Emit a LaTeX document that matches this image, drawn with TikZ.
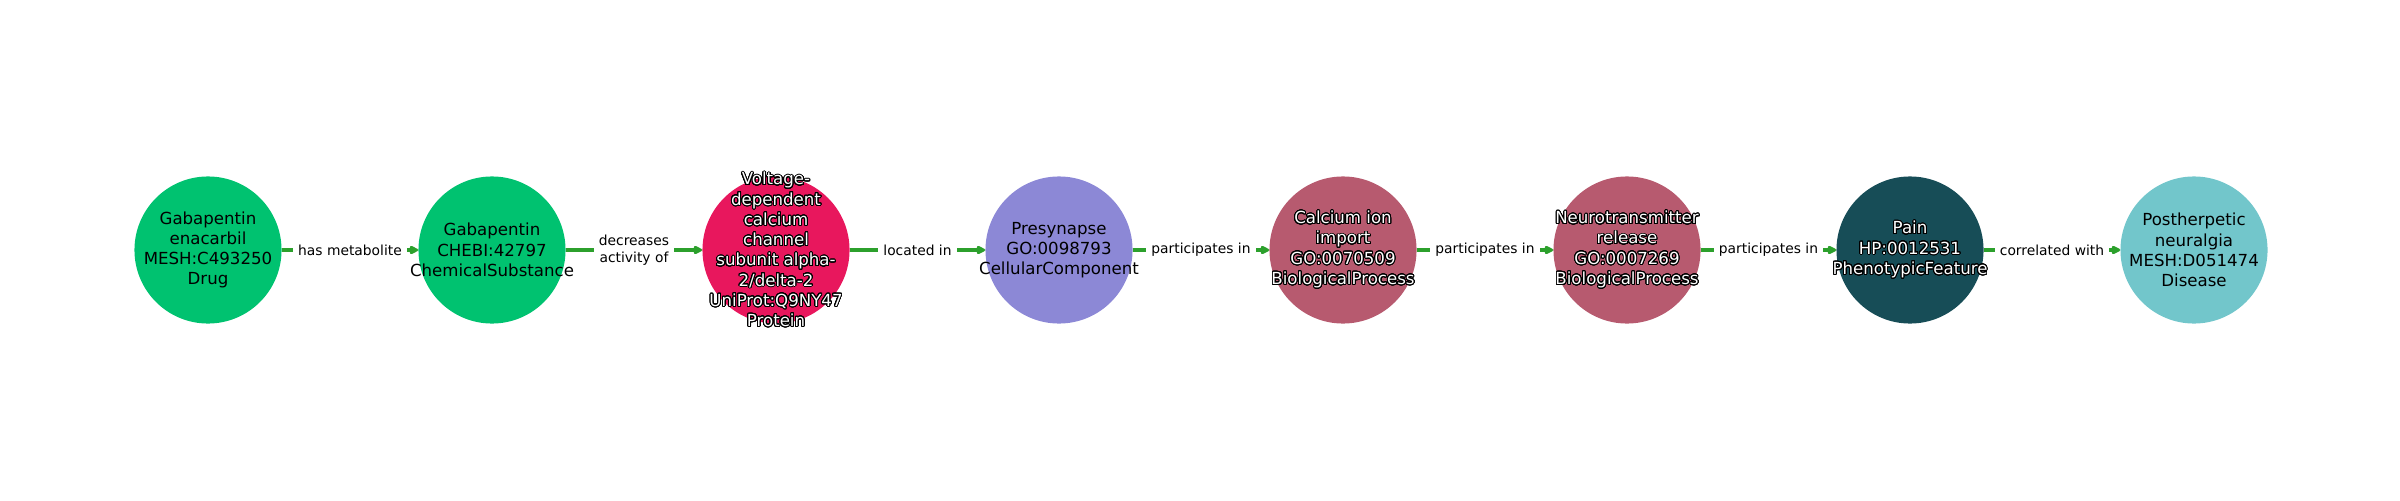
\documentclass[tikz,border=0pt]{standalone}
\usepackage{fontspec}
\setmainfont{DejaVu Sans}
\usepackage{contour}
\usetikzlibrary{arrows.meta}
\contourlength{0.7pt}
\contournumber{32}
\newcommand{\darkline}[1]{\contour{black}{#1}}
\definecolor{drugclr}{HTML}{00C270}
\definecolor{protclr}{HTML}{E8175D}
\definecolor{compclr}{HTML}{8C88D6}
\definecolor{procclr}{HTML}{B75A6F}
\definecolor{phenclr}{HTML}{174D57}
\definecolor{disclr}{HTML}{72C6CB}
\definecolor{edgeclr}{HTML}{2CA02C}
\tikzset{
    ent/.style={circle, draw=none, minimum size=1.47in, inner sep=0pt},
    lbl/.style={align=center, inner sep=0pt, font=\fontsize{12pt}{14.6pt}\selectfont},
    edge/.style={draw=edgeclr, line width=2.5pt, -{Triangle[length=0.1in, width=0.09in, round]}},
    elabel/.style={fill=white, inner sep=0.05in, align=center, text=black, font=\fontsize{10pt}{12pt}\selectfont}
}
\begin{document}
\begin{tikzpicture}[x=0.01in, y=0.01in]
    \useasboundingbox (0,0) rectangle (2400,500);
    % Entities
    \node[ent, fill=drugclr, label={[lbl]center:Gabapentin\\enacarbil\\MESH:C493250\\Drug}] (gabaen) at (208,250) {};
    \node[ent, fill=drugclr, label={[lbl]center:Gabapentin\\CHEBI:42797\\ChemicalSubstance}] (gaba) at (492,250) {};
    \node[ent, fill=protclr, label={[lbl, text=white]center:\darkline{Voltage-}\\\darkline{dependent}\\\darkline{calcium}\\\darkline{channel}\\\darkline{subunit alpha-}\\\darkline{2/delta-2}\\\darkline{UniProt:Q9NY47}\\\darkline{Protein}}] (cacna) at (776,250) {};
    \node[ent, fill=compclr, label={[lbl]center:Presynapse\\GO:0098793\\CellularComponent}] (presyn) at (1059,250) {};
    \node[ent, fill=procclr, label={[lbl, text=white]center:\darkline{Calcium ion}\\\darkline{import}\\\darkline{GO:0070509}\\\darkline{BiologicalProcess}}] (caimp) at (1343,250) {};
    \node[ent, fill=procclr, label={[lbl, text=white]center:\darkline{Neurotransmitter}\\\darkline{release}\\\darkline{GO:0007269}\\\darkline{BiologicalProcess}}] (ntrel) at (1627,250) {};
    \node[ent, fill=phenclr, label={[lbl, text=white]center:\darkline{Pain}\\\darkline{HP:0012531}\\\darkline{PhenotypicFeature}}] (pain) at (1910,250) {};
    \node[ent, fill=disclr, label={[lbl]center:Postherpetic\\neuralgia\\MESH:D051474\\Disease}] (phn) at (2194,250) {};
    % Relations
    \draw[edge] (gabaen) -- node[elabel] {has metabolite} (gaba);
    \draw[edge] (gaba) -- node[elabel] {decreases\\activity of} (cacna);
    \draw[edge] (cacna) -- node[elabel] {located in} (presyn);
    \draw[edge] (presyn) -- node[elabel] {participates in} (caimp);
    \draw[edge] (caimp) -- node[elabel] {participates in} (ntrel);
    \draw[edge] (ntrel) -- node[elabel] {participates in} (pain);
    \draw[edge] (pain) -- node[elabel] {correlated with} (phn);
\end{tikzpicture}
\end{document}
